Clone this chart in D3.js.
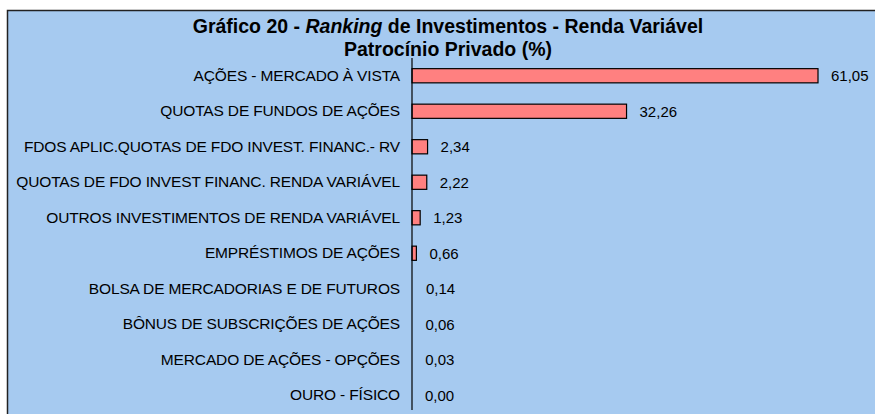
<!DOCTYPE html>
<html lang="pt">
<head>
    <meta charset="UTF-8">
    <title>Ranking de Investimentos - Renda Variável</title>
    <script src="https://d3js.org/d3.v7.min.js"></script>
    <style>
        body { margin: 0; padding: 0; background: #fff; }
        svg { display: block; font-family: "Liberation Sans", Arial, sans-serif; }
    </style>
</head>
<body>
    <svg width="875" height="414"></svg>
    <script>
        // Data
        const categories = [
            "AÇÕES - MERCADO À VISTA",
            "QUOTAS DE FUNDOS DE AÇÕES",
            "FDOS APLIC.QUOTAS DE FDO INVEST. FINANC.- RV",
            "QUOTAS DE FDO INVEST FINANC. RENDA VARIÁVEL",
            "OUTROS INVESTIMENTOS DE RENDA VARIÁVEL",
            "EMPRÉSTIMOS DE AÇÕES",
            "BOLSA DE MERCADORIAS E DE FUTUROS",
            "BÔNUS DE SUBSCRIÇÕES DE AÇÕES",
            "MERCADO DE AÇÕES - OPÇÕES",
            "OURO - FÍSICO"
        ];
        const values = [61.05, 32.26, 2.34, 2.22, 1.23, 0.66, 0.14, 0.06, 0.03, 0.00];

        const svg = d3.select("svg");

        // Chart background box
        svg.append("rect")
            .attr("x", 7.5).attr("y", 10.5)
            .attr("width", 880).attr("height", 420)
            .attr("fill", "#A6CAF0")
            .attr("stroke", "#222").attr("stroke-width", 1.5);

        // Title
        const title = svg.append("text")
            .attr("x", 448).attr("y", 33)
            .attr("text-anchor", "middle")
            .attr("font-size", 19.5).attr("font-weight", "bold");
        title.append("tspan").text("Gráfico 20 - ");
        title.append("tspan").attr("font-style", "italic").text("Ranking");
        title.append("tspan").text(" de Investimentos - Renda Variável");
        svg.append("text")
            .attr("x", 448).attr("y", 56)
            .attr("text-anchor", "middle")
            .attr("font-size", 19.5).attr("font-weight", "bold")
            .text("Patrocínio Privado (%)");

        // Scales
        const x0 = 412;
        const x = d3.scaleLinear().domain([0, 61.05]).range([x0, 818]);
        const y = d3.scaleBand().domain(categories).range([58, 413]).paddingInner(0.6).paddingOuter(0.3);

        // Bars (tiny ones vanish under the axis line)
        svg.selectAll(".bar")
            .data(values)
            .enter().append("rect")
            .attr("class", "bar")
            .attr("x", x0)
            .attr("y", (d, i) => y(categories[i]))
            .attr("width", d => x(d) - x0)
            .attr("height", y.bandwidth())
            .attr("fill", d => x(d) - x0 > 2 ? "#FF8080" : "none")
            .attr("stroke", d => x(d) - x0 > 2 ? "#000" : "none")
            .attr("stroke-width", 1.2);

        // Axis (left, no ticks)
        const axis = svg.append("g")
            .attr("transform", `translate(${x0},0)`)
            .call(d3.axisLeft(y).tickSize(0).tickPadding(12));
        axis.select(".domain").attr("d", "M0,58V410").attr("stroke", "#000").attr("stroke-width", 1.2);
        axis.selectAll("text")
            .attr("font-family", "'Liberation Sans', Arial, sans-serif")
            .attr("font-size", 15.5)
            .attr("letter-spacing", "-0.15px")
            .attr("fill", "#000");

        // Value labels
        svg.selectAll(".val")
            .data(values)
            .enter().append("text")
            .attr("class", "val")
            .attr("x", d => x(d) + 13)
            .attr("y", (d, i) => y(categories[i]) + y.bandwidth() / 2)
            .attr("dy", "0.36em")
            .attr("font-size", 15)
            .text(d => d3.format(".2f")(d).replace(".", ","));
    </script>
</body>
</html>
